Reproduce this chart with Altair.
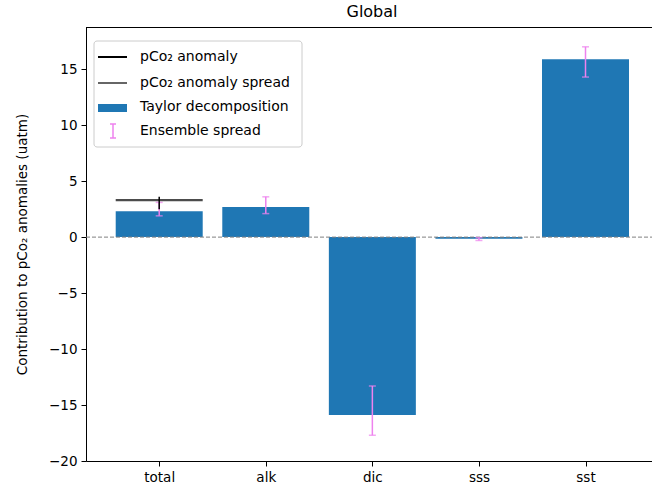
import altair as alt
import pandas as pd

categories = ["total", "alk", "dic", "sss", "sst"]
taylor = [2.3, 2.7, -15.9, -0.15, 15.9]
ens_low = [1.9, 2.1, -17.7, -0.3, 14.3]
ens_high = [3.1, 3.6, -13.3, -0.05, 17.0]
pco2_anom = [3.3]
pco2_low = [2.5]
pco2_high = [3.6]
y_ticks = [-20, -15, -10, -5, 0, 5, 10, 15]
legend_labels = ["pCo₂ anomaly", "pCo₂ anomaly spread", "Taylor decomposition", "Ensemble spread"]

FONT = "DejaVu Sans"
BLUE = "#1f77b4"
PINK = "#EE82EE"
W, H = 566, 434

df = pd.DataFrame({"idx": list(range(len(categories))), "cat": categories,
                   "val": taylor, "lo": ens_low, "hi": ens_high})
tot = pd.DataFrame({"idx": [0], "anom": pco2_anom, "lo": pco2_low, "hi": pco2_high})

label_expr = "[" + ",".join("'%s'" % c for c in categories) + "][datum.value]"

common_axis = dict(grid=False, domainColor="black", tickColor="black", labelColor="black",
                   labelFont=FONT, labelFontSize=13.5, titleFont=FONT, titleFontSize=13.5,
                   titleFontWeight="normal", titleColor="black", tickSize=5, labelPadding=4,
                   domainWidth=1, tickWidth=1)

xenc = alt.X("idx:Q",
             scale=alt.Scale(domain=[-0.64, 4.577], nice=False, zero=False),
             axis=alt.Axis(values=list(range(len(categories))), labelExpr=label_expr,
                           title=None, **common_axis))
yscale = alt.Scale(domain=[-20, 18.77], nice=False, zero=False)
yaxis = alt.Axis(values=y_ticks,
                 labelExpr="replace(datum.label, '-', '\u2212')",
                 title="Contribution to pCo₂ anomalies (uatm)", titlePadding=19, **common_axis)

def Y(field):
    return alt.Y(field, scale=yscale, axis=yaxis)

bars = alt.Chart(df).mark_bar(size=87, color=BLUE).encode(
    x=xenc, y=Y("val:Q"), y2=alt.datum(0))

zero = alt.Chart(pd.DataFrame({"z": [0]})).mark_rule(
    color="#808080", strokeWidth=1, strokeDash=[4, 2]).encode(
    y=Y("z:Q"), x=alt.value(0), x2=alt.value(W))

err = alt.Chart(df).mark_rule(color=PINK, strokeWidth=1.5).encode(
    x=xenc, y=Y("lo:Q"), y2="hi:Q")
cap_lo = alt.Chart(df).mark_tick(orient="horizontal", size=7, thickness=1.5, color=PINK).encode(
    x=xenc, y=Y("lo:Q"))
cap_hi = alt.Chart(df).mark_tick(orient="horizontal", size=7, thickness=1.5, color=PINK).encode(
    x=xenc, y=Y("hi:Q"))

anom = alt.Chart(tot).mark_tick(orient="horizontal", size=87, thickness=2.4, color="black").encode(
    x=xenc, y=Y("anom:Q"))
anom_spread = alt.Chart(tot).mark_rule(color="black", strokeWidth=1.5).encode(
    x=xenc, y=Y("lo:Q"), y2="hi:Q")

one = pd.DataFrame({"a": [0]})
top_spine = alt.Chart(one).mark_rule(color="black", strokeWidth=1).encode(
    x=alt.value(0), x2=alt.value(W), y=alt.value(0.5))

leg_frame = alt.Chart(one).mark_rect(fill="white", fillOpacity=0.8, stroke="#cccccc",
                                     strokeWidth=1, cornerRadius=3).encode(
    x=alt.value(8), x2=alt.value(216), y=alt.value(14), y2=alt.value(120))
leg_l1 = alt.Chart(one).mark_rule(color="black", strokeWidth=2).encode(
    x=alt.value(12), x2=alt.value(41), y=alt.value(30))
leg_l2 = alt.Chart(one).mark_rule(color="#333333", strokeWidth=1.5).encode(
    x=alt.value(12), x2=alt.value(41), y=alt.value(56))
leg_bar = alt.Chart(one).mark_rect(color=BLUE).encode(
    x=alt.value(12), x2=alt.value(41), y=alt.value(77), y2=alt.value(85))
leg_err = alt.Chart(one).mark_rule(color=PINK, strokeWidth=1.5).encode(
    x=alt.value(27), y=alt.value(97), y2=alt.value(111))
leg_cap1 = alt.Chart(one).mark_rule(color=PINK, strokeWidth=1.5).encode(
    x=alt.value(24), x2=alt.value(30), y=alt.value(97))
leg_cap2 = alt.Chart(one).mark_rule(color=PINK, strokeWidth=1.5).encode(
    x=alt.value(24), x2=alt.value(30), y=alt.value(111))
leg_text = alt.Chart(pd.DataFrame({"label": legend_labels, "row": [30, 56, 80, 104]})).mark_text(
    align="left", baseline="middle", font=FONT, fontSize=14, color="black").encode(
    x=alt.value(54), y=alt.Y("row:Q", scale=None), text="label:N")

chart = alt.layer(
    bars, zero, err, cap_lo, cap_hi, anom, anom_spread, top_spine,
    leg_frame, leg_l1, leg_l2, leg_bar, leg_err, leg_cap1, leg_cap2, leg_text
).properties(
    width=W, height=H,
    title=alt.TitleParams("Global", font=FONT, fontSize=16, fontWeight="normal",
                          color="black", offset=7, dx=3),
    autosize=alt.AutoSizeParams(type="none"),
    padding={"left": 86, "top": 27, "right": 0, "bottom": 34},
    background="white",
).configure_view(stroke=None)

chart.save("out.html", embed_options={"renderer": "svg", "actions": False})
